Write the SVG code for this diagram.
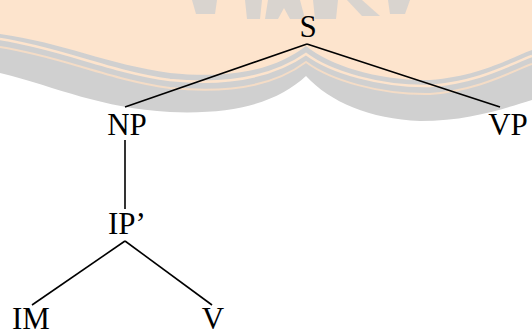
<svg xmlns="http://www.w3.org/2000/svg" width="532" height="336" viewBox="0 0 532 336">
<style>
.lbl{font-family:"Liberation Serif","Times New Roman",serif;font-size:31px;fill:#000;text-anchor:middle}
.edge{stroke:#000;stroke-width:1.6;fill:none}
.wm-g{fill:#d0d0d0}
.wm-p{fill:#fde4cd}
</style>
<rect width="532" height="336" fill="#fff"/>
<g id="watermark">
<path class="wm-g" d="M0,0 H532 V100 C505,108 470,121 420,121 C370,119 330,102 306,76 C280,100 240,115 170,112 C100,108 60,88 0,73 Z"/>
<path class="wm-p" d="M0,0 H532 V50 C510,58 480,76 430,80 C380,81 330,66 306,46 C280,66 240,80 170,73 C110,65 60,42 0,34 Z"/>
<path d="M0,39 C60,48 110,72 170,80 C240,87 280,72 306,54 C330,72 380,87 430,86 C480,82 510,64 532,56" stroke="#fde4cd" stroke-width="2.5" fill="none"/>
<path d="M0,47 C60,56 110,80 170,88 C240,95 282,80 306,62 C330,80 380,95 430,94 C480,90 510,72 532,64" stroke="#f4dcc6" stroke-width="2" fill="none"/>
<path class="wm-g" opacity="0.8" d="M192,0 H217 L215,14 H196 Z M245,0 H262 L260,19 H247 Z M268,0 H300 L305,19 H290 L284,8 L278,19 H265 Z M313,0 H338 L336,19 H315 Z M347,0 H362 L380,16 H362 Z M388,0 H410 L405,14 H390 Z"/>
</g>
<g id="connectors">
<line class="edge" x1="307" y1="44" x2="125" y2="107"/>
<line class="edge" x1="307" y1="44" x2="500" y2="107"/>
<line class="edge" x1="125" y1="140" x2="125" y2="209"/>
<line class="edge" x1="125" y1="241" x2="32" y2="305"/>
<line class="edge" x1="125" y1="241" x2="212" y2="305"/>
</g>
<g id="node-S"><text class="lbl" x="308" y="37">S</text></g>
<g id="node-NP"><text class="lbl" x="127" y="135">NP</text></g>
<g id="node-VP"><text class="lbl" x="508" y="135">VP</text></g>
<g id="node-IP"><text class="lbl" x="127" y="234">IP’</text></g>
<g id="node-IM"><text class="lbl" x="31" y="329">IM</text></g>
<g id="node-V"><text class="lbl" x="213" y="329">V</text></g>
</svg>
